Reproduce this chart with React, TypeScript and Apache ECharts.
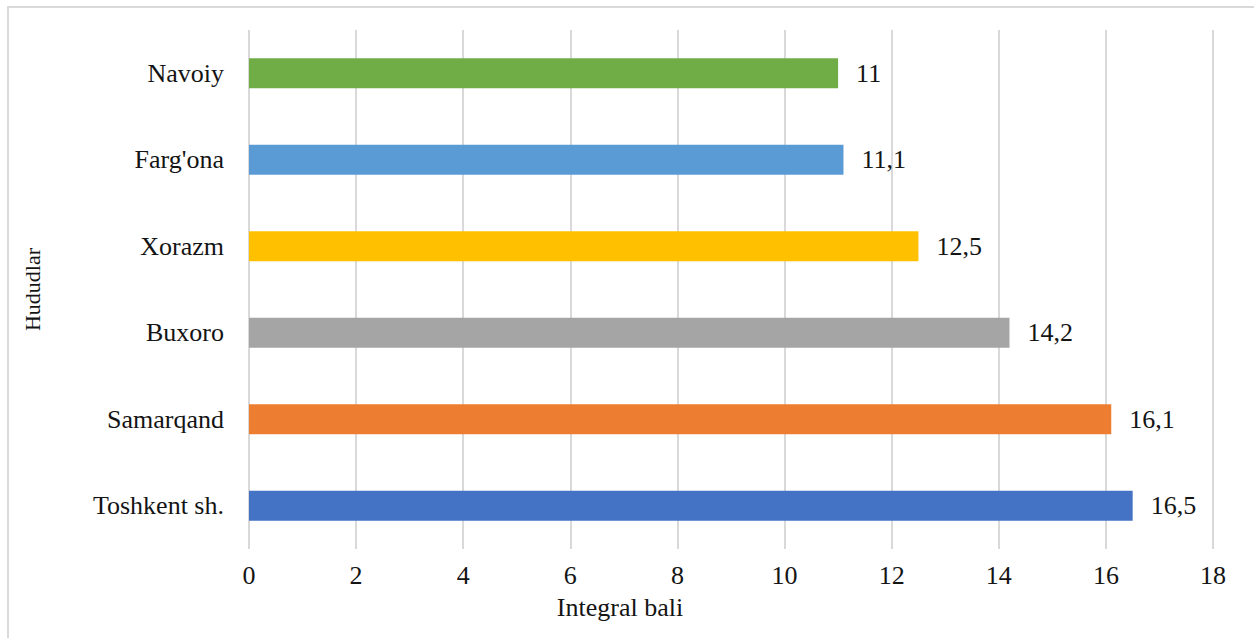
import React, { useEffect, useRef } from "react";
import * as echarts from "echarts";

const categories = ["Toshkent sh.", "Samarqand", "Buxoro", "Xorazm", "Farg'ona", "Navoiy"];
const values = [16.5, 16.1, 14.2, 12.5, 11.1, 11];
const colors = ["#4472C4", "#ED7D31", "#A5A5A5", "#FFC000", "#5B9BD5", "#70AD47"];
const xTicks = { min: 0, max: 18, interval: 2 };
const xName = "Integral bali";
const yName = "Hududlar";

const FONT = "'Liberation Serif', 'Times New Roman', serif";
const TXT = "#141414";
const FS = 26;

export default function App() {
  const ref = useRef<HTMLDivElement>(null);
  useEffect(() => {
    if (!ref.current) return;
    const chart = echarts.init(ref.current, null, { renderer: "svg" });
    chart.setOption({
      animation: false,
      backgroundColor: "#ffffff",
      graphic: [
        {
          type: "rect",
          shape: { x: 8, y: 7, width: 1270, height: 660 },
          style: { fill: "none", stroke: "#d9d9d9", lineWidth: 2 },
          silent: true,
        },
      ],
      grid: { left: 249, right: 41, top: 30, bottom: 89, containLabel: false },
      xAxis: {
        type: "value",
        min: xTicks.min,
        max: xTicks.max,
        interval: xTicks.interval,
        name: xName,
        nameLocation: "middle",
        nameGap: 45,
        nameTextStyle: { fontFamily: FONT, fontSize: FS, color: TXT, padding: [0, 222, 0, 0] },
        axisLine: { show: false },
        axisTick: { show: false },
        axisLabel: { fontFamily: FONT, fontSize: FS, color: TXT, margin: 13 },
        splitLine: { show: true, lineStyle: { color: "#d9d9d9", width: 2 } },
      },
      yAxis: {
        type: "category",
        data: categories,
        name: yName,
        nameLocation: "middle",
        nameGap: 206,
        nameRotate: 90,
        nameTextStyle: { fontFamily: FONT, fontSize: 22, color: TXT },
        axisLine: { show: false },
        axisTick: { show: false },
        axisLabel: { fontFamily: FONT, fontSize: FS, color: TXT, margin: 25 },
        splitLine: { show: false },
      },
      series: [
        {
          type: "bar",
          barWidth: 30,
          data: values.map((v, i) => ({ value: v, itemStyle: { color: colors[i] } })),
          label: {
            show: true,
            position: "right",
            distance: 18,
            fontFamily: FONT,
            fontSize: FS,
            color: TXT,
            formatter: (p: any) => String(p.value).replace(".", ","),
          },
        },
      ],
    });
    return () => chart.dispose();
  }, []);
  return (
    <div
      ref={ref}
      style={{ position: "fixed", left: 0, top: 0, width: 1254, height: 638 }}
    />
  );
}
